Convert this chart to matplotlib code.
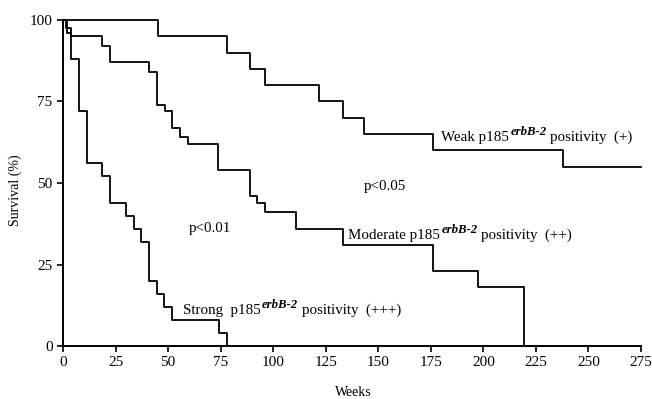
import matplotlib
matplotlib.use("Agg")
import matplotlib.pyplot as plt

# 数据
weak_t = [0, 45, 78, 89, 96, 122, 133, 143, 176, 238, 275]
weak_s = [100, 95, 90, 85, 80, 75, 70, 65, 60, 55, 55]

mod_t = [0, 1.2, 4, 18.7, 22.2, 40.7, 44.5, 48.5, 52, 55.8, 59.6, 73.9,
         89, 92.4, 96, 110.7, 133, 176, 197.6, 219.5]
mod_s = [100, 97.5, 95, 92, 87, 84, 74, 72, 67, 64, 62, 54,
         46, 44, 41, 36, 31, 23, 18, 0]

strong_t = [0, 2, 4, 7.6, 11.6, 18.4, 22.4, 30, 33.6, 37, 40.8, 44.5,
            48.2, 52, 74, 77.9]
strong_s = [100, 96, 88, 72, 56, 52, 44, 40, 36, 32, 20, 16,
            12, 8, 4, 0]

x_ticks = [0, 25, 50, 75, 100, 125, 150, 175, 200, 225, 250, 275]
y_ticks = [0, 25, 50, 75, 100]

plt.rcParams['font.family'] = ['Liberation Serif', 'DejaVu Serif']

fig = plt.figure(figsize=(6.52, 3.99), dpi=100)
ax = fig.add_axes([63 / 652, 1 - 346 / 399, 578 / 652, 326 / 399])

for t, s in [(weak_t, weak_s), (mod_t, mod_s), (strong_t, strong_s)]:
    ax.plot(t, s, drawstyle='steps-post', color='black', lw=1.3, clip_on=False)

ax.set_xlim(0, 275)
ax.set_ylim(0, 100)
ax.set_xticks(x_ticks)
ax.set_yticks(y_ticks)
ax.tick_params(direction='out', length=4, width=1.2, labelsize=11, colors='black')
for side in ['top', 'right']:
    ax.spines[side].set_visible(False)
for side in ['left', 'bottom']:
    ax.spines[side].set_linewidth(1.4)

fs = 10.8


def label(x, y, pre, post):
    # 主文字 + 上标 erbB-2 + 后缀
    t1 = ax.text(x, y, pre, fontsize=fs, va='bottom')
    t2 = ax.annotate('erbB-2', xy=(1, 0.45), xycoords=t1, xytext=(1, 0),
                     textcoords='offset points', fontsize=9.2, style='italic',
                     weight='bold', va='bottom')
    ax.annotate(post, xy=(1, 0), xycoords=(t2, t1), xytext=(2.5, 0),
                textcoords='offset points', fontsize=fs, va='bottom')


label(180, 62, 'Weak p185', 'positivity  (+)')
label(135.6, 32, 'Moderate p185', 'positivity  (++)')
label(57, 9, 'Strong  p185', 'positivity  (+++)')
ax.text(143, 49, 'p<0.05', fontsize=fs, va='center')
ax.text(60, 36, 'p<0.01', fontsize=fs, va='center')

fig.text(353 / 652, 1 - 393 / 399, 'Weeks', fontsize=10, ha='center', va='center')
fig.text(15 / 652, 1 - 190 / 399, 'Survival (%)', fontsize=10, rotation=90,
         ha='center', va='center')

fig.savefig('out.png', dpi=100)
